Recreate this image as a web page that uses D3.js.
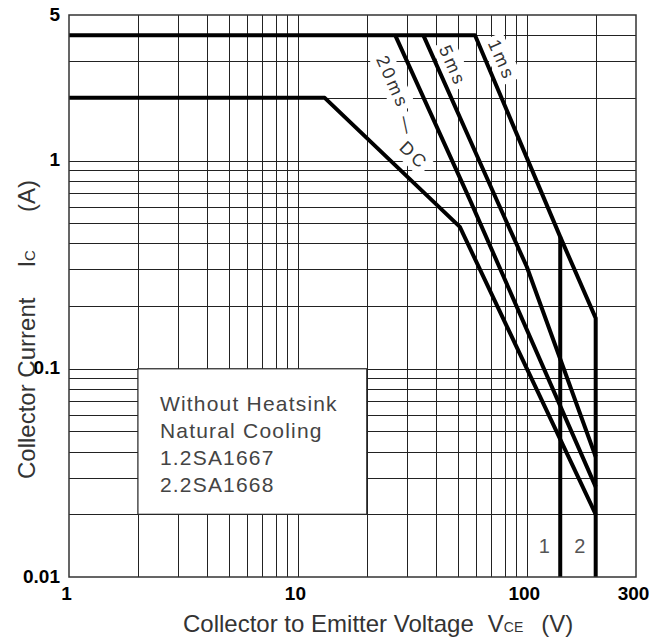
<!DOCTYPE html>
<html>
<head>
<meta charset="utf-8">
<script src="https://cdn.jsdelivr.net/npm/d3@7"></script>
<style>
  body { margin: 0; background: #fff; }
  svg { display: block; font-family: "Liberation Sans", Arial, sans-serif; }
  .grid line { stroke: #222; stroke-width: 1; shape-rendering: crispEdges; }
  .curve { fill: none; stroke: #000; stroke-width: 4; stroke-linejoin: round; }
  .tick-label { font-weight: bold; font-size: 19px; fill: #000; }
  .title { font-size: 24px; fill: #333; }
  .curve-label { font-size: 18px; fill: #333; letter-spacing: 3px; }
  .note { font-size: 21px; fill: #444; letter-spacing: 1.2px; }
</style>
</head>
<body>
<svg width="665" height="642"></svg>
<script>
// axis ticks and grid
const xTicks = [1, 10, 100, 300];
const yTicks = [0.01, 0.1, 1, 5];
const xGrid = [2, 3, 4, 5, 6, 7, 8, 9, 10, 20, 30, 40, 50, 60, 70, 80, 90, 100, 200];
const yGrid = [0.02, 0.03, 0.04, 0.05, 0.06, 0.07, 0.08, 0.09, 0.1,
               0.2, 0.3, 0.4, 0.5, 0.6, 0.7, 0.8, 0.9, 1, 2, 3, 4];

// SOA curves (V, A)
const dcV = [1, 13.1, 51, 200];
const dcI = [2, 2, 0.48, 0.020];
const ms20V = [26.6, 56.5, 200];
const ms20I = [4, 0.646, 0.0271];
const ms5V = [35.3, 73.9, 100, 200];
const ms5I = [4, 0.646, 0.309, 0.0378];
const ms1V = [1, 59.4, 140, 200, 200];
const ms1I = [4, 4, 0.43, 0.175, 0.01];
const lim1V = [140, 140];
const lim1I = [0.43, 0.01];

const curveNames = ['1ms', '5ms', '20ms', '—', 'DC'];
const noteLines = ['Without Heatsink', 'Natural Cooling', '1.2SA1667', '2.2SA1668'];
const limitNames = ['1', '2'];
const limitV = [140, 200];

const svg = d3.select('svg');
const margin = { top: 15, right: 29, bottom: 65, left: 69 };
const W = 665, H = 642;

const x = d3.scaleLog().domain([1, 300]).range([margin.left, W - margin.right]);
const y = d3.scaleLog().domain([0.01, 5]).range([H - margin.bottom, margin.top]);

// grid
const grid = svg.append('g').attr('class', 'grid');
grid.selectAll('.gx').data(xGrid).enter().append('line')
  .attr('x1', d => Math.round(x(d)) + 0.5).attr('x2', d => Math.round(x(d)) + 0.5)
  .attr('y1', y(0.01)).attr('y2', y(5));
grid.selectAll('.gy').data(yGrid).enter().append('line')
  .attr('y1', d => Math.round(y(d)) + 0.5).attr('y2', d => Math.round(y(d)) + 0.5)
  .attr('x1', x(1)).attr('x2', x(300));

// note box hides grid (2..20 V, 0.02..0.1 A)
svg.append('rect')
  .attr('x', x(2)).attr('y', y(0.1))
  .attr('width', x(20) - x(2)).attr('height', y(0.02) - y(0.1))
  .attr('fill', '#fff').attr('stroke', '#222').attr('stroke-width', 1.2);

svg.append('g').selectAll('text').data(noteLines).enter().append('text')
  .attr('class', 'note')
  .attr('x', x(2) + 22)
  .attr('y', (d, i) => y(0.1) + 42 + i * 27)
  .text(d => d);

// curve labels with white boxes behind them
const labelPos = [
  { V: 77.9, I: 3.04, a: 66 },
  { V: 47.6, I: 2.85, a: 66 },
  { V: 26.0, I: 2.38, a: 66 },
  { V: 30.0, I: 1.46, a: 78 },
  { V: 32.2, I: 1.06, a: 44 }
];
const labels = svg.append('g').selectAll('g').data(curveNames).enter().append('g')
  .attr('transform', (d, i) => `translate(${x(labelPos[i].V)},${y(labelPos[i].I)}) rotate(${labelPos[i].a})`);
labels.append('text')
  .attr('class', 'curve-label')
  .attr('text-anchor', 'middle')
  .attr('dy', '0.35em')
  .text(d => d);
labels.each(function () {
  const g = d3.select(this);
  const b = g.select('text').node().getBBox();
  g.insert('rect', 'text')
    .attr('x', b.x - 4).attr('y', b.y - 2)
    .attr('width', b.width + 6).attr('height', b.height + 4)
    .attr('fill', '#fff');
});

// curves
const line = d3.line().x(d => x(d[0])).y(d => y(d[1]));
const curves = [
  d3.zip(ms1V, ms1I), d3.zip(ms5V, ms5I), d3.zip(ms20V, ms20I),
  d3.zip(dcV, dcI), d3.zip(lim1V, lim1I)
];
svg.append('g').selectAll('path').data(curves).enter().append('path')
  .attr('class', 'curve')
  .attr('d', line);

// frame
svg.append('rect')
  .attr('x', x(1)).attr('y', y(5))
  .attr('width', x(300) - x(1)).attr('height', y(0.01) - y(5))
  .attr('fill', 'none').attr('stroke', '#333').attr('stroke-width', 1.5);

// limit numbers
svg.append('g').selectAll('text').data(limitNames).enter().append('text')
  .attr('x', (d, i) => x(limitV[i]) - 16)
  .attr('y', y(0.01) - 24)
  .attr('text-anchor', 'middle')
  .attr('font-size', 20).attr('fill', '#555')
  .text(d => d);

// axes
const xAxis = svg.append('g')
  .attr('transform', `translate(0,${y(0.01)})`)
  .call(d3.axisBottom(x).tickValues(xTicks).tickFormat(d3.format('d')).tickSize(0).tickPadding(10));
const yAxis = svg.append('g')
  .attr('transform', `translate(${x(1)},0)`)
  .call(d3.axisLeft(y).tickValues(yTicks).tickFormat(d => d).tickSize(0).tickPadding(9));
[xAxis, yAxis].forEach(a => {
  a.select('.domain').remove();
  a.selectAll('text').attr('class', 'tick-label').attr('font-family', null).attr('font-size', null);
});
xAxis.selectAll('text').attr('dx', -3);
yAxis.selectAll('text').attr('dy', '0.27em');

// axis titles
const xt = svg.append('text').attr('class', 'title')
  .attr('x', 183).attr('y', 632);
xt.append('tspan').text('Collector to Emitter Voltage');
xt.append('tspan').attr('dx', 14).text('V');
xt.append('tspan').attr('font-size', 14).text('CE');
xt.append('tspan').attr('dx', 18).text('(V)');

const yt = svg.append('text').attr('class', 'title')
  .attr('transform', 'translate(35,479) rotate(-90)');
yt.append('tspan').text('Collector Current');
yt.append('tspan').attr('dx', 30).text('I');
yt.append('tspan').attr('font-size', 15).text('C');
yt.append('tspan').attr('dx', 38).text('(A)');
</script>
</body>
</html>
